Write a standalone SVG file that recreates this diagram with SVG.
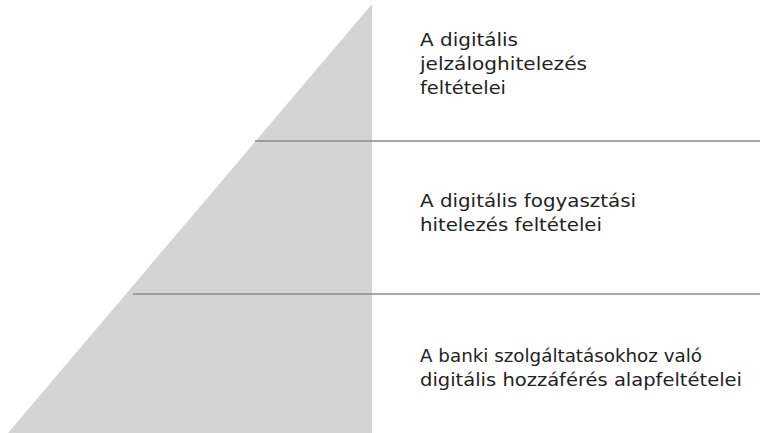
<svg xmlns="http://www.w3.org/2000/svg" width="760" height="433" viewBox="0 0 760 433">
<style>
.t{font-family:"DejaVu Sans","Liberation Sans",sans-serif;font-size:17.5px;fill:#222222}
.sep{stroke:#8c8c8c;stroke-width:1.4;fill:none}
</style>
<rect width="760" height="433" fill="#ffffff"/>
<g id="pyramid">
<polygon points="372,4 372,433 8,433" fill="#d4d4d4"/>
</g>
<g id="connectors">
<line class="sep" x1="255" y1="141" x2="760" y2="141"/>
<line class="sep" x1="133" y1="294" x2="760" y2="294"/>
</g>
<g id="level-top">
<text class="t" x="420" y="46" textLength="98" lengthAdjust="spacingAndGlyphs">A digitális</text>
<text class="t" x="420" y="70" textLength="167" lengthAdjust="spacingAndGlyphs">jelzáloghitelezés</text>
<text class="t" x="420" y="94" textLength="86" lengthAdjust="spacingAndGlyphs">feltételei</text>
</g>
<g id="level-middle">
<text class="t" x="420" y="207" textLength="216" lengthAdjust="spacingAndGlyphs">A digitális fogyasztási</text>
<text class="t" x="420" y="231" textLength="182" lengthAdjust="spacingAndGlyphs">hitelezés feltételei</text>
</g>
<g id="level-bottom">
<text class="t" x="420" y="362" textLength="282" lengthAdjust="spacingAndGlyphs">A banki szolgáltatásokhoz való</text>
<text class="t" x="420" y="386" textLength="322" lengthAdjust="spacingAndGlyphs">digitális hozzáférés alapfeltételei</text>
</g>
</svg>
